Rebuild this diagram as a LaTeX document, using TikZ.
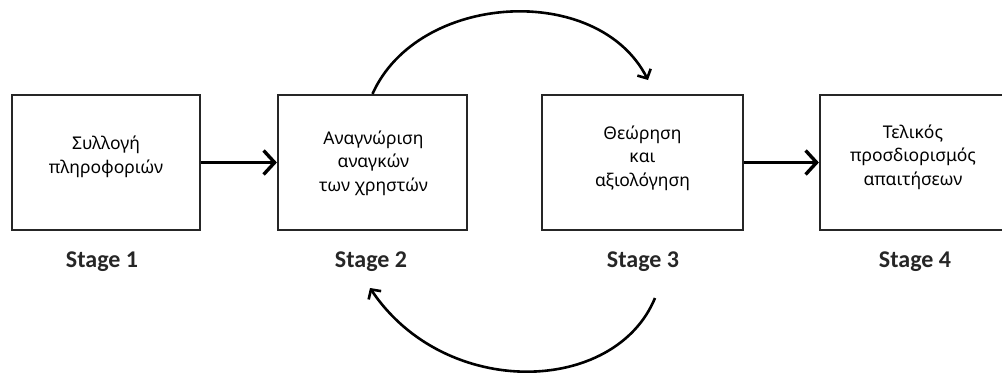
\documentclass[tikz,border=0pt]{standalone}
\usepackage{fontspec}
\setmainfont{Noto Sans}
\newfontfamily\stagefont{Carlito}
\usetikzlibrary{arrows.meta}
\begin{document}
\begin{tikzpicture}[x=1pt,y=-1pt,
  stagebox/.style={draw=black!85,line width=2.2pt,minimum width=#1,minimum height=135pt,inner sep=0pt},
  boxtext/.style={align=center,text=black,font=\fontsize{17.5}{23.5}\selectfont},
  stagelabel/.style={text=black!85,font=\stagefont\bfseries\fontsize{24}{26}\selectfont},
  flow/.style={line width=3.6pt,-{Straight Barb[length=11pt,width=24pt,line width=3.4pt]}},
  loop/.style={line width=2.6pt,-{Straight Barb[length=7pt,width=15pt,line width=2.6pt]}}]
\useasboundingbox (0,0) rectangle (1002,380);
\begin{scope}
\clip (0,0) rectangle (1002,380);
\node[stagebox=188pt] (b1) at (106,162.5) {};
\node[stagebox=189pt] (b2) at (372.5,162.5) {};
\node[stagebox=201pt] (b3) at (642.5,162.5) {};
\node[stagebox=186pt] (b4) at (913,162.5) {};
\end{scope}
\node[boxtext] (t1) at (106,157) {Συλλογή\\πληροφοριών};
\node[boxtext] (t2) at (373.5,163) {Αναγνώριση\\αναγκών\\των χρηστών};
\node[boxtext] (t3) at (642.5,158) {Θεώρηση\\και\\αξιολόγηση};
\node[boxtext] (t4) at (913,157) {Τελικός\\προσδιορισμός\\απαιτήσεων};
\node[stagelabel] (s1) at (102,262) {Stage 1};
\node[stagelabel] (s2) at (371,262) {Stage 2};
\node[stagelabel] (s3) at (643,262) {Stage 3};
\node[stagelabel] (s4) at (915,262) {Stage 4};
\draw[flow] (b1.east) -- (b2.west);
\draw[flow] (b3.east) -- (b4.west);
\coordinate (topend) at (648,80);
\coordinate (botstart) at (655,298);
\coordinate (botend) at (370,288);
\draw[loop] (b2.north) .. controls (418,-8) and (598,-18) .. (topend);
\draw[loop] (botstart) .. controls (615,395) and (445,400) .. (botend);
\end{tikzpicture}
\end{document}
